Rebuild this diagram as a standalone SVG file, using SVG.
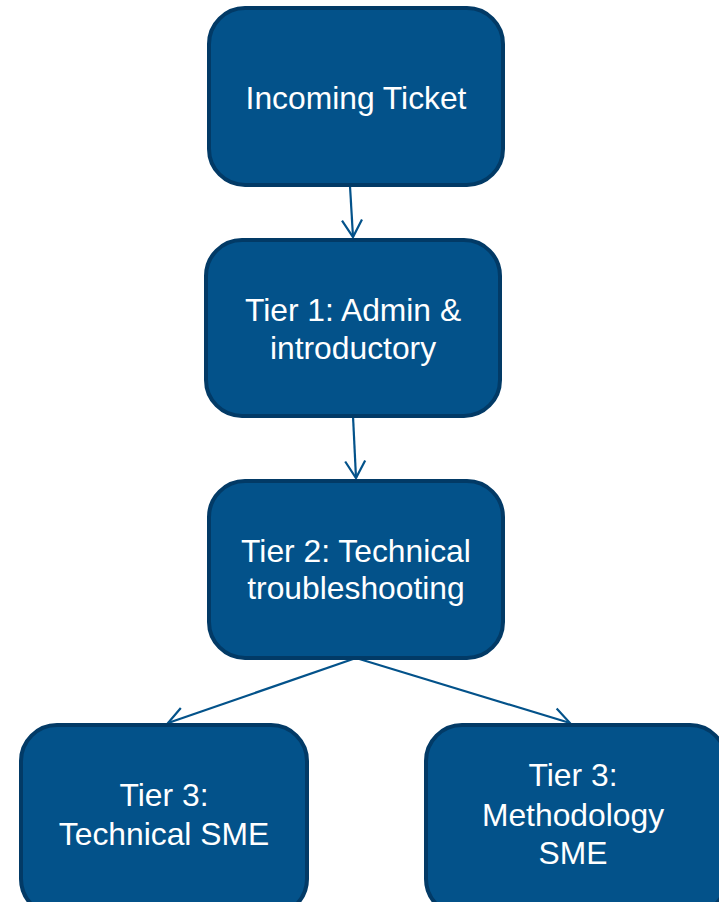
<svg xmlns="http://www.w3.org/2000/svg" width="719" height="902" viewBox="0 0 719 902">
<defs>
<style>
.box{fill:#03528A;stroke:#023A66;stroke-width:4}
.t{fill:#ffffff;font-family:"Liberation Sans",Arial,sans-serif;font-size:31.8px;text-anchor:middle}
.c{fill:none;stroke:#03528A;stroke-width:2.2}
</style>
<marker id="arr" markerUnits="userSpaceOnUse" markerWidth="24" markerHeight="24" viewBox="-20 -12 24 24" refX="0" refY="0" orient="auto">
<path d="M-17,-10 L0,0 L-17,10" fill="none" stroke="#03528A" stroke-width="2.2"/>
</marker>
</defs>
<rect width="719" height="902" fill="#ffffff"/>
<g id="connectors">
<path class="c" d="M350,186 L353,237" marker-end="url(#arr)"/>
<path class="c" d="M353,416 L356,478" marker-end="url(#arr)"/>
<path class="c" d="M356,658 L168,723" marker-end="url(#arr)"/>
<path class="c" d="M356,658 L570,723" marker-end="url(#arr)"/>
</g>
<g id="n1">
<rect class="box" x="209" y="8" width="294" height="177" rx="36"/>
<text class="t" x="356" y="109">Incoming Ticket</text>
</g>
<g id="n2">
<rect class="box" x="206" y="240" width="294" height="176" rx="36"/>
<text class="t" x="353" y="321">Tier 1: Admin &amp;</text>
<text class="t" x="353" y="359">introductory</text>
</g>
<g id="n3">
<rect class="box" x="209" y="481" width="294" height="177" rx="36"/>
<text class="t" x="356" y="562">Tier 2: Technical</text>
<text class="t" x="356" y="599">troubleshooting</text>
</g>
<g id="n4">
<rect class="box" x="21" y="725" width="286" height="190" rx="36"/>
<text class="t" x="164" y="806">Tier 3:</text>
<text class="t" x="164" y="845">Technical SME</text>
</g>
<g id="n5">
<rect class="box" x="426" y="725" width="300" height="190" rx="36"/>
<text class="t" x="573" y="786">Tier 3:</text>
<text class="t" x="573" y="826">Methodology</text>
<text class="t" x="573" y="864">SME</text>
</g>
</svg>
